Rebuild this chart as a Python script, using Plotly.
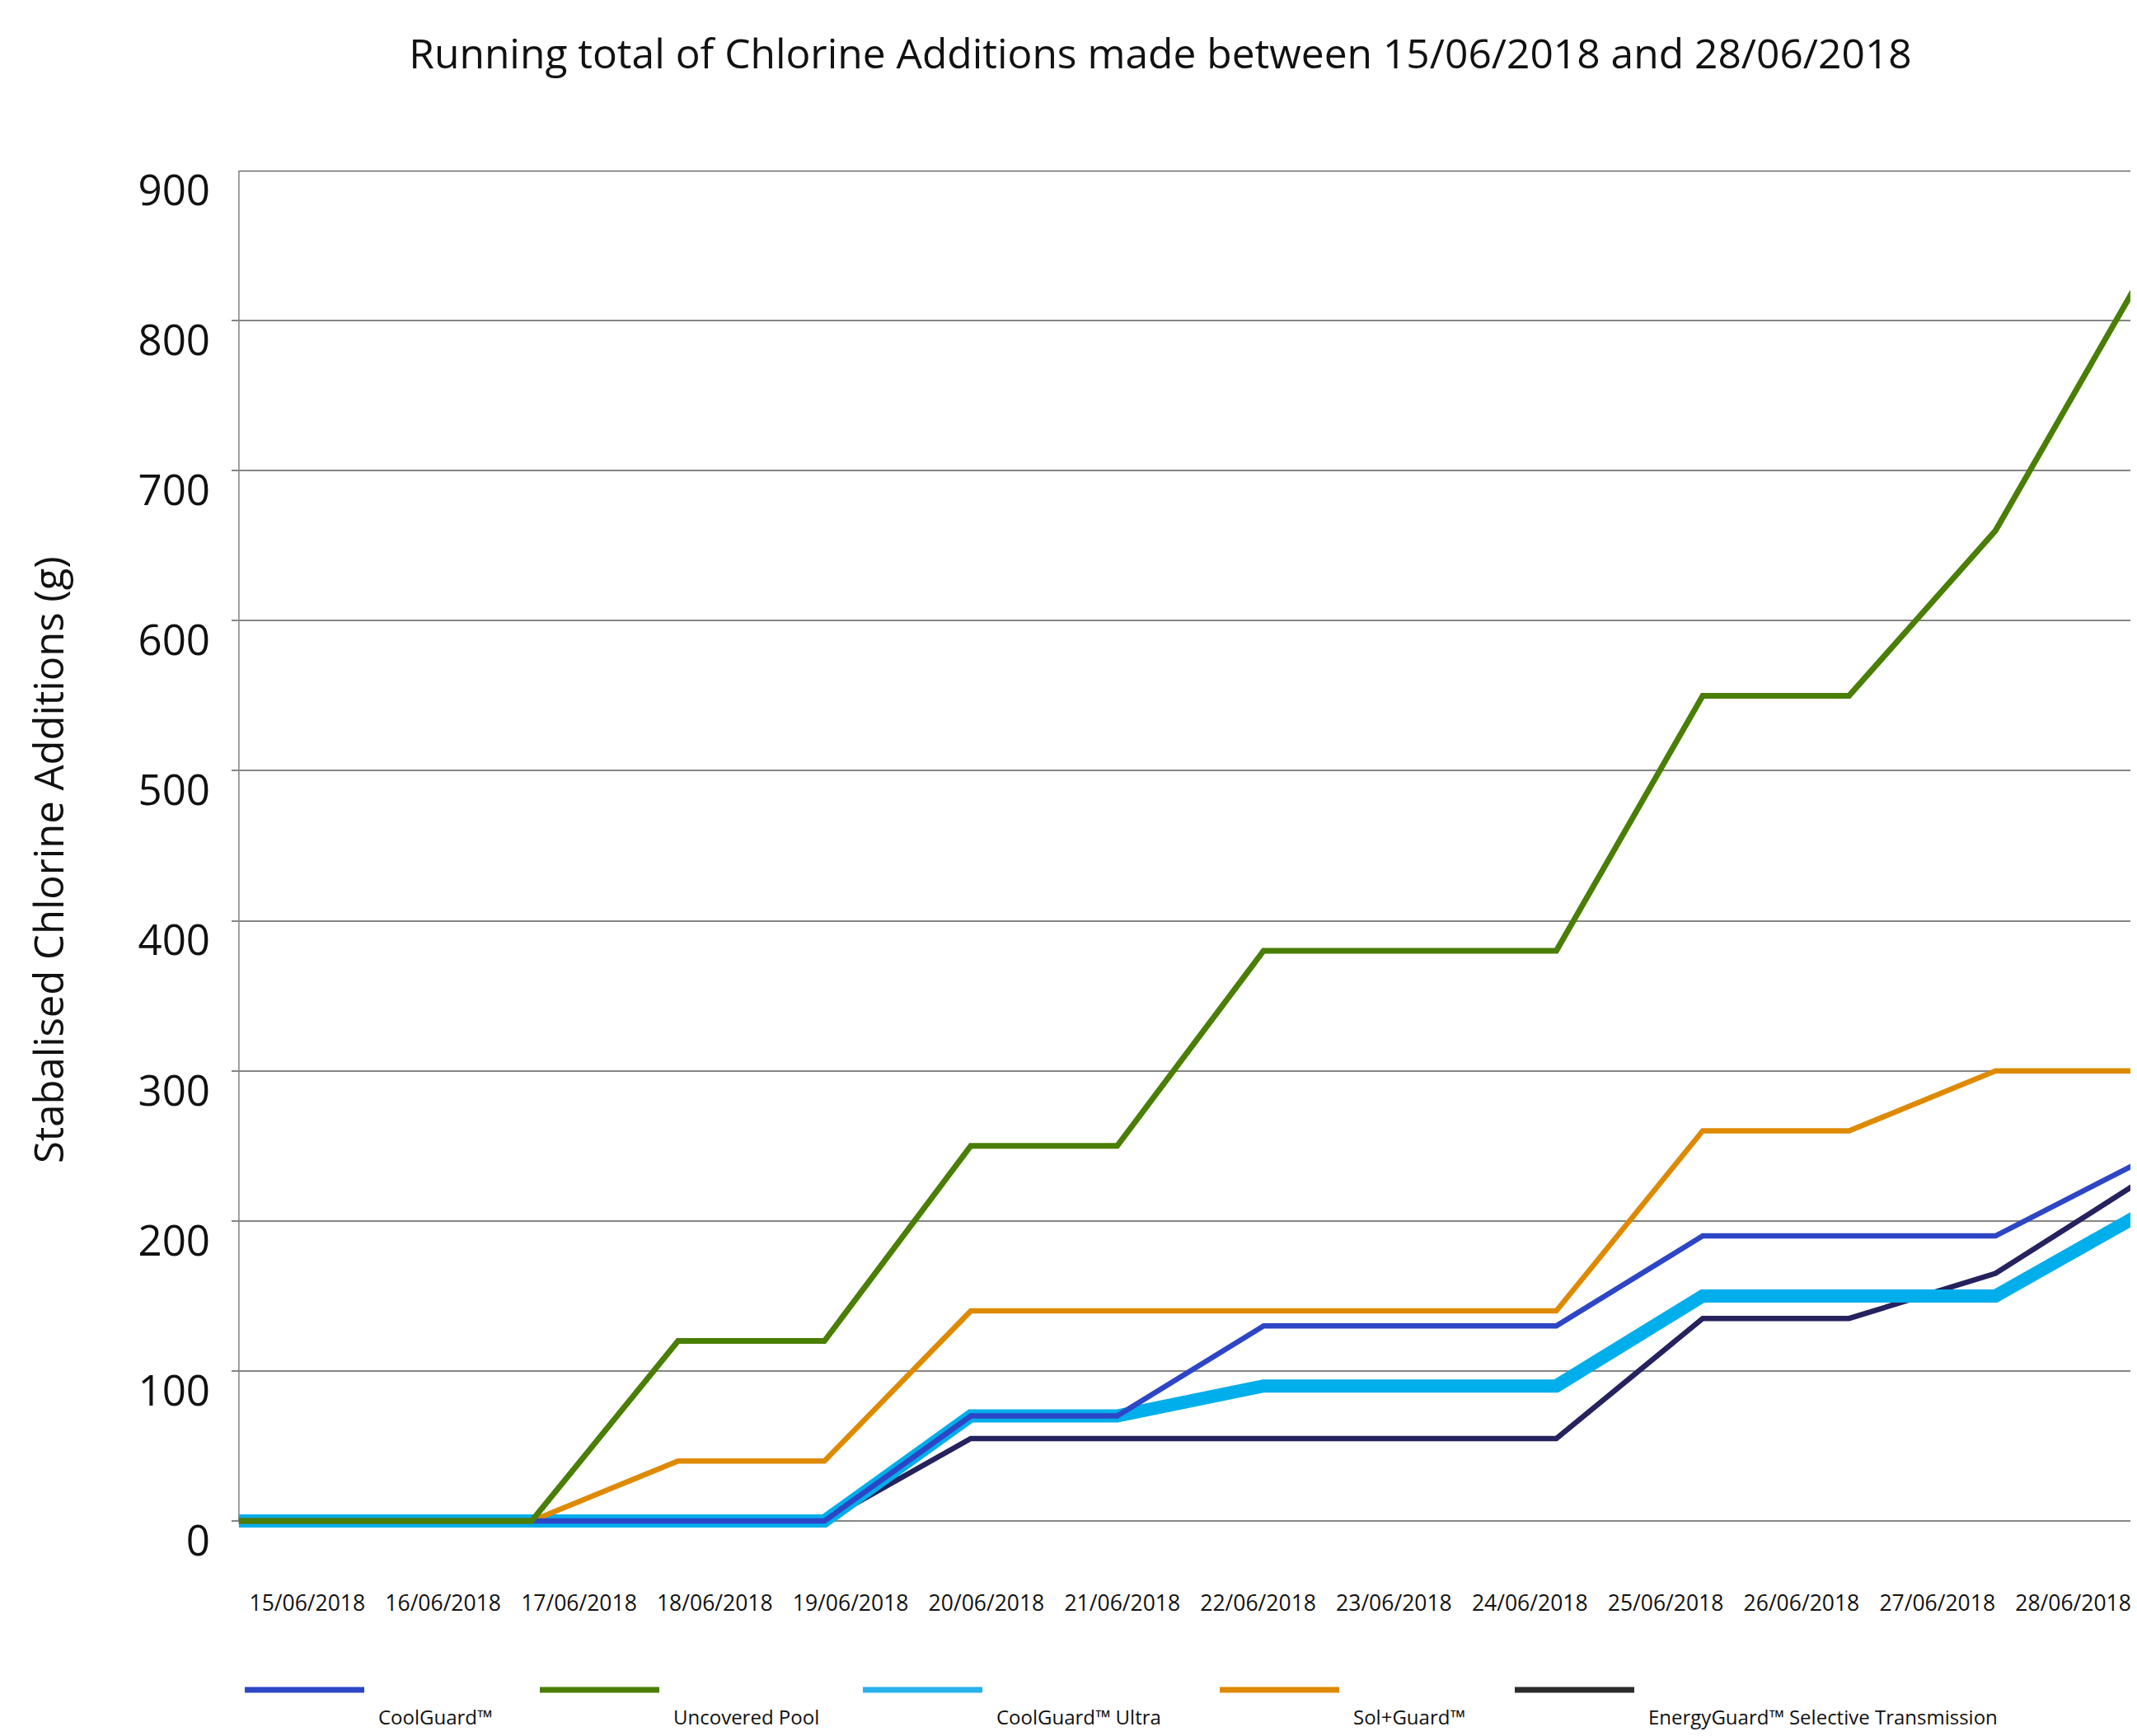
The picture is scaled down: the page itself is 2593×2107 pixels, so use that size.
import plotly.graph_objects as go

# ---- data ----
dates = ["15/06/2018", "16/06/2018", "17/06/2018", "18/06/2018", "19/06/2018",
         "20/06/2018", "21/06/2018", "22/06/2018", "23/06/2018", "24/06/2018",
         "25/06/2018", "26/06/2018", "27/06/2018", "28/06/2018"]
coolguard = [0, 0, 0, 0, 0, 70, 70, 130, 130, 130, 190, 190, 190, 240]
uncovered = [0, 0, 0, 120, 120, 250, 250, 380, 380, 380, 550, 550, 660, 830]
coolguard_ultra = [0, 0, 0, 0, 0, 70, 70, 90, 90, 90, 150, 150, 150, 205]
solguard = [0, 0, 0, 40, 40, 140, 140, 140, 140, 140, 260, 260, 300, 300]
energyguard = [0, 0, 0, 0, 0, 55, 55, 55, 55, 55, 135, 135, 165, 227]
y_ticks = [0, 100, 200, 300, 400, 500, 600, 700, 800, 900]

series_names = ["CoolGuard™", "Uncovered Pool", "CoolGuard™ Ultra", "Sol+Guard™",
                "EnergyGuard™ Selective Transmission"]
series_values = [coolguard, uncovered, coolguard_ultra, solguard, energyguard]

# ---- styles ----
colors = ["#2D46C6", "#4A7E04", "#00AEEB", "#DE8A00", "#25225E"]
legend_colors = ["#2D46C6", "#4A7E04", "#29B1EE", "#DE8A00", "#2B2B2B"]
widths = [6.5, 7, 16, 6.5, 6.5]
draw_order = [4, 2, 3, 0, 1]
FONT = "Open Sans"

OFF = 8  # page body margin offset
W, H = 2593 - OFF, 2107 - 2 * OFF
# plot area in screen pixels, converted to figure pixels
PL, PR, PT, PB = 281 - OFF, 2593 - OFF, 207 - OFF, 1857 - OFF
x_rng = [-0.05, 12.967]
y_rng = [-6, 900]

x = list(range(len(dates)))

fig = go.Figure()
for k in draw_order:
    fig.add_trace(go.Scatter(
        x=x, y=series_values[k], mode="lines", name=series_names[k],
        line=dict(color=colors[k], width=widths[k]), showlegend=False,
    ))

def px_to_paper_x(px):  # px in screen coordinates
    return (px - OFF - PL) / (PR - PL)

def px_to_paper_y(py):
    return (PB - (py - OFF)) / (PB - PT)

# tick label positions (labels are offset from data points in the original)
label_start, label_step = 0.467, 0.928
tickvals = [label_start + i * label_step for i in range(len(dates))]

shapes = [
    dict(type="line", xref="x", yref="y", x0=0, x1=0, y0=0, y1=y_ticks[-1],
         line=dict(color="#808080", width=1.5), layer="below"),
    dict(type="line", xref="paper", yref="y", x0=px_to_paper_x(290), x1=1,
         y0=y_ticks[-1], y1=y_ticks[-1], line=dict(color="#555555", width=2.5), layer="below"),
]
annotations = []

# custom legend
leg_line_x = [297, 655, 1047, 1480, 1838]
leg_len = 145
for k, name in enumerate(series_names):
    x0 = leg_line_x[k]
    shapes.append(dict(type="line", xref="paper", yref="paper",
                       x0=px_to_paper_x(x0), x1=px_to_paper_x(x0 + leg_len),
                       y0=px_to_paper_y(2051), y1=px_to_paper_y(2051),
                       line=dict(color=legend_colors[k], width=7)))
    annotations.append(dict(text=name, xref="paper", yref="paper",
                            x=px_to_paper_x(x0 + leg_len + 15), y=px_to_paper_y(2083),
                            xanchor="left", yanchor="middle", showarrow=False,
                            font=dict(family=FONT, size=24, color="#111111")))

# y-axis title
annotations.append(dict(text="Stabalised Chlorine Additions (g)", xref="paper", yref="paper",
                        x=px_to_paper_x(58), y=px_to_paper_y(1044), textangle=-90,
                        xanchor="center", yanchor="middle", showarrow=False,
                        font=dict(family=FONT, size=49, color="#111111")))

fig.update_layout(
    width=W, height=H,
    margin=dict(l=PL, r=W - PR, t=PT, b=H - PB, autoexpand=False),
    paper_bgcolor="white", plot_bgcolor="white",
    title=dict(text="Running total of Chlorine Additions made between 15/06/2018 and 28/06/2018",
               x=(1408 - OFF) / W, xanchor="center", y=1 - (66 - OFF) / H, yanchor="middle",
               xref="container", yref="container", automargin=False,
               font=dict(family=FONT, size=49.7, color="#111111")),
    xaxis=dict(range=x_rng, showgrid=False, zeroline=False, showline=False, automargin=False,
               tickmode="array", tickvals=tickvals, ticktext=dates, ticks="",
               ticklabelstandoff=70,
               tickfont=dict(family=FONT, size=26.5, color="#111111")),
    yaxis=dict(range=y_rng, showgrid=True, gridcolor="#858585", gridwidth=2, automargin=False,
               zeroline=False, showline=False, tickmode="array", tickvals=y_ticks,
               ticks="", ticklabelstandoff=25, ticklabelshift=24,
               tickfont=dict(family=FONT, size=51, color="#111111")),
    shapes=shapes, annotations=annotations,
)

fig.write_html("out.html")
